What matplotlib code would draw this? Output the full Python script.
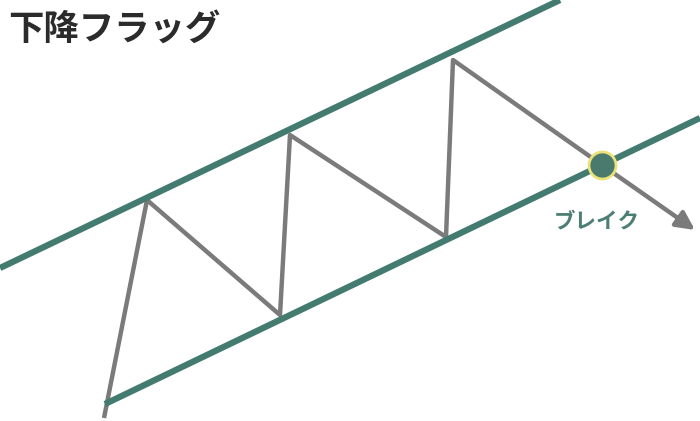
import matplotlib
matplotlib.use("Agg")
import matplotlib.pyplot as plt

plt.rcParams['font.family'] = ['Noto Sans CJK JP', 'DejaVu Sans']

# channel lines (pixel coords, y down)
upper_x = [0, 560]
upper_y = [268, 0]
lower_x = [105, 700]
lower_y = [404, 118]

# price zigzag
price_x = [104, 147, 280, 290, 446, 453, 602]
price_y = [418, 200, 315, 135, 237, 60, 165]

# break-out arrow
arrow_start = (602, 165)
arrow_end = (695, 230)

title = "下降フラッグ"
break_label = "ブレイク"

green = "#437b70"
grey = "#7b7b7b"

fig = plt.figure(figsize=(7, 4.21), dpi=100)
ax = fig.add_axes([0, 0, 1, 1])
ax.set_xlim(0, 700)
ax.set_ylim(421, 0)
ax.axis("off")

ax.plot(price_x, price_y, color=grey, lw=3.2, solid_joinstyle="round",
        solid_capstyle="butt", zorder=2)
ax.annotate("", xy=arrow_end, xytext=arrow_start,
            arrowprops=dict(arrowstyle="-|>,head_length=1.1,head_width=0.55",
                            color=grey, lw=3.2, shrinkA=0, shrinkB=0),
            zorder=2)

ax.plot(upper_x, upper_y, color=green, lw=4.5, solid_capstyle="butt", zorder=3)
ax.plot(lower_x, lower_y, color=green, lw=4.5, solid_capstyle="butt", zorder=3)

ax.scatter([arrow_start[0]], [arrow_start[1]], s=380, color="#4a7a6d",
           edgecolors="#ece27a", linewidths=2, zorder=4)

ax.text(597, 221, break_label, color="#4d7e75", fontsize=15.5, ha="center",
        va="center", fontweight="bold")
ax.text(8, 29, title, color="#2b2b2b", fontsize=25.5, ha="left",
        va="center", fontweight="bold")

fig.savefig("out.png", dpi=100)
